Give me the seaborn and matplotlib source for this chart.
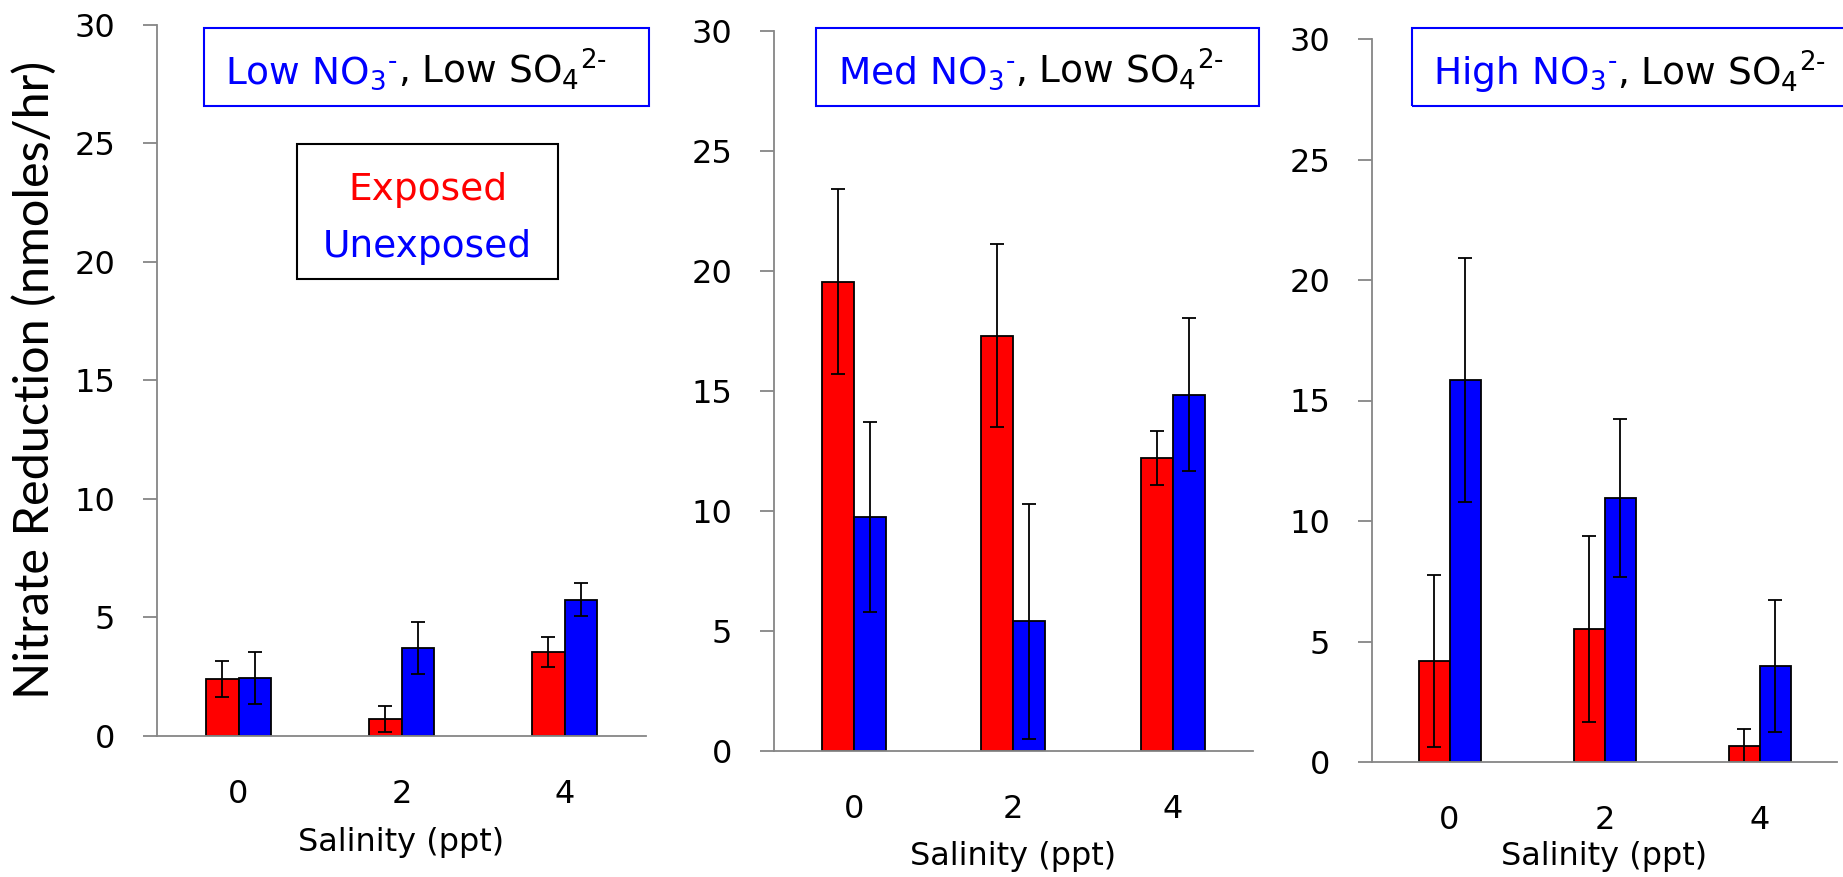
import pandas as pd
import matplotlib
matplotlib.use("Agg")
import matplotlib.pyplot as plt
from matplotlib.patches import Rectangle
import seaborn as sns

# salinity levels and treatments
salinity = ["0", "2", "4"]
treatments = ["Exposed", "Unexposed"]

# Low NO3-, Low SO4 2-
low_exposed = [2.4, 0.7, 3.55]
low_exposed_err = [0.75, 0.55, 0.64]
low_unexposed = [2.45, 3.7, 5.75]
low_unexposed_err = [1.08, 1.1, 0.7]

# Med NO3-, Low SO4 2-
med_exposed = [19.55, 17.3, 12.2]
med_exposed_err = [3.85, 3.8, 1.13]
med_unexposed = [9.75, 5.4, 14.85]
med_unexposed_err = [3.97, 4.9, 3.17]

# High NO3-, Low SO4 2-
high_exposed = [4.18, 5.52, 0.65]
high_exposed_err = [3.57, 3.85, 0.74]
high_unexposed = [15.85, 10.97, 3.98]
high_unexposed_err = [5.08, 3.28, 2.73]

panel_names = ["Low", "Med", "High"]
yticks = [0, 5, 10, 15, 20, 25, 30]

W, H = 1843, 877
RED = "#FF0000"
BLUE = "#0000FF"
GRAY = "#868686"

sns.set_style("white")
plt.rcParams["font.family"] = ["DejaVu Sans"]
plt.rcParams["mathtext.fontset"] = "dejavusans"
plt.rcParams["text.color"] = "black"


def fx(x):
    return x / W


def fy(y):
    return 1 - y / H


def make_df(exposed, unexposed):
    rows = []
    for s, v in zip(salinity, exposed):
        rows.append({"Salinity": s, "Treatment": treatments[0], "Rate": v})
    for s, v in zip(salinity, unexposed):
        rows.append({"Salinity": s, "Treatment": treatments[1], "Rate": v})
    return pd.DataFrame(rows)


panels = [
    (low_exposed, low_exposed_err, low_unexposed, low_unexposed_err),
    (med_exposed, med_exposed_err, med_unexposed, med_unexposed_err),
    (high_exposed, high_exposed_err, high_unexposed, high_unexposed_err),
]

# axes boxes in pixels: left, right, top, bottom
axes_px = [(157, 646, 24.6, 736), (774, 1252.5, 30.8, 751), (1372, 1837, 39, 762)]
salinity_y = [843, 857, 857]
title_box_px = [(204, 649), (816, 1259), (1411.5, 1856)]
title_text_x = [225, 838, 1433]

fig = plt.figure(figsize=(W / 100, H / 100), dpi=100)

for i, (ex, ex_err, un, un_err) in enumerate(panels):
    l, r, t, b = axes_px[i]
    ax = fig.add_axes([fx(l), fy(b), (r - l) / W, (b - t) / H])
    df = make_df(ex, un)
    sns.barplot(data=df, x="Salinity", y="Rate", hue="Treatment",
                order=salinity, hue_order=treatments,
                palette=[RED, BLUE], saturation=1, width=0.4,
                edgecolor="black", linewidth=1.3, errorbar=None,
                legend=False, ax=ax)
    for cont, errs in zip(ax.containers, [ex_err, un_err]):
        for bar, e in zip(cont, errs):
            ax.errorbar(bar.get_x() + bar.get_width() / 2, bar.get_height(),
                        yerr=e, color="black", elinewidth=1.3,
                        capsize=5, capthick=1.3)

    ax.set_ylim(0, 30)
    ax.set_xlim(-0.5, 2.5)
    ax.set_yticks(yticks)
    ax.set_xlabel("")
    ax.set_ylabel("")
    for side in ["top", "right"]:
        ax.spines[side].set_visible(False)
    for side in ["left", "bottom"]:
        ax.spines[side].set_color(GRAY)
        ax.spines[side].set_linewidth(1.3)
    ax.tick_params(axis="y", length=10, width=1.3, color=GRAY, pad=20,
                   labelsize=23, left=True, labelcolor="black")
    ax.tick_params(axis="x", length=0, pad=31, labelsize=23,
                   labelcolor="black")

    ax.text(0.5, (b - salinity_y[i]) / (b - t), "Salinity (ppt)",
            transform=ax.transAxes, ha="center", va="center", fontsize=23)

    if i == 0:
        ax.text((34 - l) / (r - l), 0.5, "Nitrate Reduction (nmoles/hr)",
                transform=ax.transAxes, rotation=90, ha="center", va="center",
                fontsize=35, family=["Lato", "DejaVu Sans"])

    # title box
    x0, x1 = title_box_px[i]
    fig.add_artist(Rectangle((fx(x0), fy(106)), (x1 - x0) / W, 78 / H,
                             transform=fig.transFigure, fill=False,
                             edgecolor=BLUE, linewidth=1.5))
    t1 = fig.text(fx(title_text_x[i]), fy(84),
                  panel_names[i] + " NO$_3$$^{\u2010}$",
                  color=BLUE, fontsize=27, ha="left", va="baseline")
    fig.canvas.draw()
    plt.annotate(", Low SO$_4$$^{2\u2010}$", xy=(1, 0), xycoords=t1,
                 ha="left", va="bottom", fontsize=27, color="black",
                 annotation_clip=False)

# legend box in the first panel
fig.add_artist(Rectangle((fx(297), fy(279)), (558 - 297) / W, (279 - 144) / H,
                         transform=fig.transFigure, fill=False,
                         edgecolor="black", linewidth=1.5))
fig.text(fx(427.5), fy(200), treatments[0], color=RED, fontsize=27,
         ha="center", va="baseline")
fig.text(fx(427.5), fy(257), treatments[1], color=BLUE, fontsize=27,
         ha="center", va="baseline")

fig.savefig("out.png", dpi=100)
